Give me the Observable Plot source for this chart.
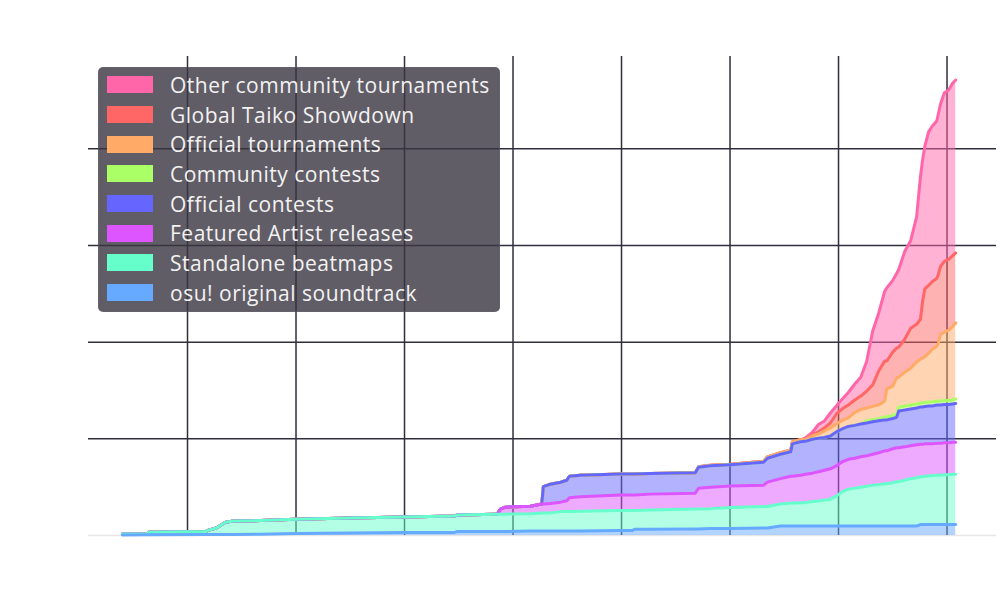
<!DOCTYPE html>
<html><head><meta charset="utf-8">
<script src="https://cdn.jsdelivr.net/npm/d3@7"></script>
<script src="https://cdn.jsdelivr.net/npm/@observablehq/plot@0.6"></script>
<style>
html,body{margin:0;padding:0;background:#fff;}
#wrap{position:relative;width:1000px;height:600px;overflow:hidden;}
#legend{position:absolute;left:98px;top:67px;width:402px;height:245px;box-sizing:border-box;background:rgba(58,53,64,0.8);border-radius:5px;padding-top:2px;border:1px solid rgba(110,110,120,0.35);}
.row{display:flex;align-items:center;height:29.7px;}
.sw{width:46px;height:17px;margin-left:8px;flex:none;}
.lb{margin-left:17px;font-family:"Open Sans";font-size:21px;color:#f2f2f2;letter-spacing:0.5px;white-space:nowrap;}
</style></head>
<body><div id="wrap"></div>
<script>
// legend order (top → bottom)
const seriesNames = ["Other community tournaments","Global Taiko Showdown","Official tournaments","Community contests","Official contests","Featured Artist releases","Standalone beatmaps","osu! original soundtrack"];
const seriesColors = ["#ff66aa","#ff6666","#ffaa66","#aaff66","#6666ff","#dd55ff","#66ffcc","#66aaff"];
const xTicks = [2008,2010,2012,2014,2016,2018,2020,2022];
const yTicks = [1000,2000,3000,4000];

const years = [2006.80,2007.26,2007.28,2008.33,2008.39,2008.53,2008.70,2008.85,2009.35,2009.99,
2011.00,2012.00,2012.92,2012.96,2013.68,2013.71,2013.77,2013.86,2014.32,2014.53,
2014.56,2014.69,2014.88,2014.99,2015.04,2015.24,2015.98,2016.20,2016.24,2016.53,
2017.36,2017.42,2017.64,2018.01,2018.62,2018.69,2018.93,2019.12,2019.15,2019.30,
2019.39,2019.52,2019.63,2019.74,2019.85,2019.96,2020.07,2020.18,2020.30,2020.41,
2020.52,2020.63,2020.74,2020.85,2020.89,2021.00,2021.07,2021.11,2021.22,2021.33,
2021.44,2021.51,2021.55,2021.59,2021.66,2021.73,2021.81,2021.84,2021.88,2021.95,
2022.03,2022.10,2022.16];

const ost = [5,7,7,10,10,10,10,10,13,21,
26,31,31,41,41,41,41,41,46,46,
46,46,46,46,46,46,52,52,65,65,
67,67,72,72,77,77,98,98,98,98,
98,98,98,98,98,98,98,98,98,98,
98,98,98,98,98,98,98,98,98,98,
98,113,113,113,113,113,113,113,113,113,
113,113,113];
const standalone = [10,10,27,31,46,67,127,139,141,147,
155,160,170,170,180,180,180,180,180,186,
186,188,201,201,201,206,206,206,193,198,
206,208,206,217,222,222,227,237,237,242,
242,253,258,268,278,309,356,381,392,402,
412,423,428,438,438,448,459,459,474,490,
500,495,495,500,505,505,510,510,510,516,
516,521,521];
const featuredArtist = [0,0,0,0,0,0,0,0,0,0,
0,0,0,0,0,0,52,72,77,93,
93,96,98,113,144,149,160,160,160,165,
165,214,222,222,222,253,263,278,278,284,
294,294,304,309,314,314,309,309,309,314,
314,320,330,340,340,351,351,351,345,340,
340,335,335,335,330,330,330,330,330,330,
330,330,330];
const officialContests = [0,0,0,0,0,0,0,0,0,0,
0,0,0,0,0,0,0,0,0,0,
180,201,206,211,222,222,217,217,217,214,
211,217,222,222,237,247,253,253,335,345,
340,351,345,340,340,351,340,340,340,340,
340,335,330,320,320,314,314,381,381,381,
381,387,387,387,392,392,397,397,397,397,
397,397,402];
const communityContests = [0,0,0,0,0,0,0,0,0,0,
0,0,0,0,0,0,0,0,0,0,
0,0,0,0,0,0,0,0,0,0,
0,0,0,0,0,0,0,0,0,0,
0,0,0,0,0,0,0,0,0,0,
21,21,21,31,31,31,36,41,41,41,
41,41,41,41,41,41,41,41,41,41,
41,41,46];
const officialTournaments = [0,0,0,0,0,0,0,0,0,0,
0,0,0,0,0,0,0,0,0,0,
0,0,0,0,0,0,0,0,0,0,
0,5,5,5,10,15,15,15,21,21,
21,36,46,67,82,82,88,88,134,149,
134,139,144,165,289,304,371,309,351,381,
433,454,464,474,505,546,567,598,691,706,
727,758,789];
const taikoShowdown = [0,0,0,0,0,0,0,0,0,0,
0,0,0,0,0,0,0,0,0,0,
0,0,0,0,0,0,0,0,0,0,
0,0,0,0,0,0,0,0,0,0,
0,10,21,31,52,103,119,134,129,139,
175,222,351,412,289,351,309,309,340,412,
392,412,588,701,701,701,701,711,701,732,
732,732,722];
const otherTournaments = [0,0,0,0,0,0,0,0,0,0,
0,0,0,0,0,0,0,0,0,0,
0,0,0,0,0,0,0,0,0,0,
0,0,0,0,0,0,0,0,0,0,
15,26,77,72,103,82,103,129,165,196,
309,557,598,722,756,742,773,804,907,907,
1113,1474,1464,1474,1588,1608,1629,1660,1681,1742,
1753,1784,1789];

const seriesValues = [otherTournaments, taikoShowdown, officialTournaments, communityContests, officialContests, featuredArtist, standalone, ost];
const table = seriesNames.flatMap((name, i) => years.map((year, j) => ({year, series: name, value: seriesValues[i][j]})));
const stackOrder = seriesNames.slice().reverse();

const chart = Plot.plot({
  width: 1000, height: 600,
  marginLeft: 88, marginRight: 4, marginTop: 56, marginBottom: 65,
  x: {domain: [2006.175, 2022.912], axis: null},
  y: {domain: [0, 4955], axis: null},
  color: {domain: seriesNames, range: seriesColors},
  marks: [
    Plot.ruleY([0], {stroke: "#e6e6e6", strokeWidth: 1.5}),
    Plot.ruleX(xTicks, {stroke: "#302e3c", strokeWidth: 1.5}),
    Plot.ruleY(yTicks, {stroke: "#302e3c", strokeWidth: 1.5}),
    Plot.areaY(table, Plot.stackY({x: "year", y: "value", z: "series", fill: "series", fillOpacity: 0.5, order: stackOrder})),
    Plot.lineY(table, Plot.stackY2({x: "year", y: "value", z: "series", stroke: "series", strokeWidth: 3, strokeLinejoin: "round", strokeLinecap: "round", order: stackOrder}))
  ]
});
const wrap = document.getElementById("wrap");
wrap.appendChild(chart);

const legend = document.createElement("div");
legend.id = "legend";
seriesNames.forEach((name, i) => {
  const row = document.createElement("div");
  row.className = "row";
  const sw = document.createElement("div");
  sw.className = "sw";
  sw.style.background = seriesColors[i];
  const lb = document.createElement("div");
  lb.className = "lb";
  lb.textContent = name;
  row.appendChild(sw); row.appendChild(lb);
  legend.appendChild(row);
});
wrap.appendChild(legend);
</script>
</body></html>
